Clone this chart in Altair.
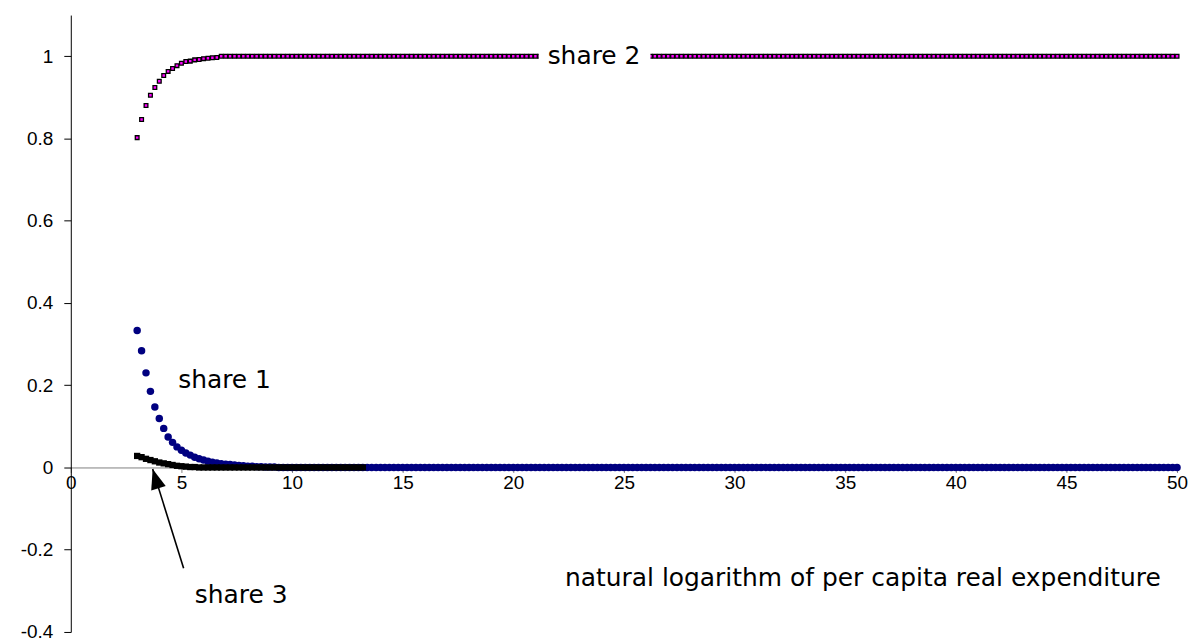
import altair as alt
import pandas as pd

# ---------------- data ----------------
X_GRID = [
    3.0, 3.2, 3.4, 3.6, 3.8, 4.0, 4.2, 4.4, 4.6, 4.8,
    5.0, 5.2, 5.4, 5.6, 5.8, 6.0, 6.2, 6.4, 6.6, 6.8,
    7.0, 7.2, 7.4, 7.6, 7.8, 8.0, 8.2, 8.4, 8.6, 8.8,
    9.0, 9.2, 9.4, 9.6, 9.8, 10.0, 10.2, 10.4, 10.6, 10.8,
    11.0, 11.2, 11.4, 11.6, 11.8, 12.0, 12.2, 12.4, 12.6, 12.8,
    13.0, 13.2, 13.4, 13.6, 13.8, 14.0, 14.2, 14.4, 14.6, 14.8,
    15.0, 15.2, 15.4, 15.6, 15.8, 16.0, 16.2, 16.4, 16.6, 16.8,
    17.0, 17.2, 17.4, 17.6, 17.8, 18.0, 18.2, 18.4, 18.6, 18.8,
    19.0, 19.2, 19.4, 19.6, 19.8, 20.0, 20.2, 20.4, 20.6, 20.8,
    21.0, 21.2, 21.4, 21.6, 21.8, 22.0, 22.2, 22.4, 22.6, 22.8,
    23.0, 23.2, 23.4, 23.6, 23.8, 24.0, 24.2, 24.4, 24.6, 24.8,
    25.0, 25.2, 25.4, 25.6, 25.8, 26.0, 26.2, 26.4, 26.6, 26.8,
    27.0, 27.2, 27.4, 27.6, 27.8, 28.0, 28.2, 28.4, 28.6, 28.8,
    29.0, 29.2, 29.4, 29.6, 29.8, 30.0, 30.2, 30.4, 30.6, 30.8,
    31.0, 31.2, 31.4, 31.6, 31.8, 32.0, 32.2, 32.4, 32.6, 32.8,
    33.0, 33.2, 33.4, 33.6, 33.8, 34.0, 34.2, 34.4, 34.6, 34.8,
    35.0, 35.2, 35.4, 35.6, 35.8, 36.0, 36.2, 36.4, 36.6, 36.8,
    37.0, 37.2, 37.4, 37.6, 37.8, 38.0, 38.2, 38.4, 38.6, 38.8,
    39.0, 39.2, 39.4, 39.6, 39.8, 40.0, 40.2, 40.4, 40.6, 40.8,
    41.0, 41.2, 41.4, 41.6, 41.8, 42.0, 42.2, 42.4, 42.6, 42.8,
    43.0, 43.2, 43.4, 43.6, 43.8, 44.0, 44.2, 44.4, 44.6, 44.8,
    45.0, 45.2, 45.4, 45.6, 45.8, 46.0, 46.2, 46.4, 46.6, 46.8,
    47.0, 47.2, 47.4, 47.6, 47.8, 48.0, 48.2, 48.4, 48.6, 48.8,
    49.0, 49.2, 49.4, 49.6, 49.8, 50.0,
]

SHARE_1 = [
    0.333, 0.284, 0.230, 0.185, 0.147, 0.119, 0.095, 0.074, 0.061, 0.050,
    0.042, 0.035, 0.030, 0.025, 0.021, 0.018, 0.015, 0.013, 0.011, 0.009,
    0.008, 0.007, 0.006, 0.005, 0.004, 0.003, 0.003, 0.002, 0.002, 0.001,
    0.001, 0.001, 0, 0, 0, 0, 0, 0, 0, 0,
    0, 0, 0, 0, 0, 0, 0, 0, 0, 0,
    0, 0, 0, 0, 0, 0, 0, 0, 0, 0,
    0, 0, 0, 0, 0, 0, 0, 0, 0, 0,
    0, 0, 0, 0, 0, 0, 0, 0, 0, 0,
    0, 0, 0, 0, 0, 0, 0, 0, 0, 0,
    0, 0, 0, 0, 0, 0, 0, 0, 0, 0,
    0, 0, 0, 0, 0, 0, 0, 0, 0, 0,
    0, 0, 0, 0, 0, 0, 0, 0, 0, 0,
    0, 0, 0, 0, 0, 0, 0, 0, 0, 0,
    0, 0, 0, 0, 0, 0, 0, 0, 0, 0,
    0, 0, 0, 0, 0, 0, 0, 0, 0, 0,
    0, 0, 0, 0, 0, 0, 0, 0, 0, 0,
    0, 0, 0, 0, 0, 0, 0, 0, 0, 0,
    0, 0, 0, 0, 0, 0, 0, 0, 0, 0,
    0, 0, 0, 0, 0, 0, 0, 0, 0, 0,
    0, 0, 0, 0, 0, 0, 0, 0, 0, 0,
    0, 0, 0, 0, 0, 0, 0, 0, 0, 0,
    0, 0, 0, 0, 0, 0, 0, 0, 0, 0,
    0, 0, 0, 0, 0, 0, 0, 0, 0, 0,
    0, 0, 0, 0, 0, 0,
]

SHARE_2 = [
    0.802, 0.846, 0.880, 0.905, 0.924, 0.939, 0.953, 0.963, 0.970, 0.977,
    0.983, 0.987, 0.988, 0.991, 0.992, 0.994, 0.995, 0.996, 0.997, 1,
    1, 1, 1, 1, 1, 1, 1, 1, 1, 1,
    1, 1, 1, 1, 1, 1, 1, 1, 1, 1,
    1, 1, 1, 1, 1, 1, 1, 1, 1, 1,
    1, 1, 1, 1, 1, 1, 1, 1, 1, 1,
    1, 1, 1, 1, 1, 1, 1, 1, 1, 1,
    1, 1, 1, 1, 1, 1, 1, 1, 1, 1,
    1, 1, 1, 1, 1, 1, 1, 1, 1, 1,
    1, 1, 1, 1, 1, 1, 1, 1, 1, 1,
    1, 1, 1, 1, 1, 1, 1, 1, 1, 1,
    1, 1, 1, 1, 1, 1, 1, 1, 1, 1,
    1, 1, 1, 1, 1, 1, 1, 1, 1, 1,
    1, 1, 1, 1, 1, 1, 1, 1, 1, 1,
    1, 1, 1, 1, 1, 1, 1, 1, 1, 1,
    1, 1, 1, 1, 1, 1, 1, 1, 1, 1,
    1, 1, 1, 1, 1, 1, 1, 1, 1, 1,
    1, 1, 1, 1, 1, 1, 1, 1, 1, 1,
    1, 1, 1, 1, 1, 1, 1, 1, 1, 1,
    1, 1, 1, 1, 1, 1, 1, 1, 1, 1,
    1, 1, 1, 1, 1, 1, 1, 1, 1, 1,
    1, 1, 1, 1, 1, 1, 1, 1, 1, 1,
    1, 1, 1, 1, 1, 1, 1, 1, 1, 1,
    1, 1, 1, 1, 1, 1,
]

SHARE_3 = [
    0.028, 0.025, 0.021, 0.018, 0.015, 0.012, 0.010, 0.008, 0.006, 0.004,
    0.003, 0.002, 0.001, 0.001, 0, 0, 0, 0, 0, 0,
    0, 0, 0, 0, 0, 0, 0, 0, 0, 0,
    0, 0, 0, 0, 0, 0, 0, 0, 0, 0,
    0, 0, 0, 0, 0, 0, 0, 0, 0, 0,
    0, 0,
]

X_TICKS = [0, 5, 10, 15, 20, 25, 30, 35, 40, 45, 50]
Y_TICKS = [-0.4, -0.2, 0, 0.2, 0.4, 0.6, 0.8, 1.0]
X_DOMAIN = [0, 50]
Y_DOMAIN = [-0.4, 1.1]

LABEL_TEXT = ["share 2", "share 1", "share 3",
              "natural logarithm of per capita real expenditure"]
LABEL_X = [23.65, 6.95, 7.7, 35.8]
LABEL_Y = [1.0, 0.213, -0.31, -0.269]

# white box behind the "share 2" label
BOX_X = [21.15]
BOX_X2 = [26.2]
BOX_Y = [0.972]
BOX_Y2 = [1.028]

# arrow pointing at share 3
ARROW_X = [5.1]
ARROW_Y = [-0.245]
ARROW_X2 = [3.7]
ARROW_Y2 = [-0.004]

# ---------------- chart ----------------
W, H = 1110, 619
FONT = "DejaVu Sans"
TICK_FONT = "Liberation Sans"

x_offset = -H * (0 - Y_DOMAIN[0]) / (Y_DOMAIN[1] - Y_DOMAIN[0])

xs = alt.Scale(domain=X_DOMAIN, nice=False, zero=False)
ys = alt.Scale(domain=Y_DOMAIN, nice=False, zero=False)

x_axis = alt.Axis(values=X_TICKS, orient="bottom", offset=x_offset,
                  domainColor="#808080", tickColor="#808080", tickSize=5,
                  labelFont=TICK_FONT, labelFontSize=19, labelColor="black",
                  labelPadding=1, labelFlush=False, labelOverlap=False,
                  grid=False, title=None)
y_axis = alt.Axis(values=Y_TICKS, orient="left",
                  domainColor="black", tickColor="black", tickSize=7,
                  labelFont=TICK_FONT, labelFontSize=19, labelColor="black",
                  labelPadding=11, labelFlush=False, labelOverlap=False,
                  labelBound=False,
                  grid=False, title=None,
                  labelExpr="datum.value < 0 ? '-' + format(-datum.value, '~g') : format(datum.value, '~g')")


def X(field):
    return alt.X(field, type="quantitative", scale=xs, axis=x_axis)


def Y(field):
    return alt.Y(field, type="quantitative", scale=ys, axis=y_axis)


df1 = pd.DataFrame({"x": X_GRID, "y": SHARE_1})
df2 = pd.DataFrame({"x": X_GRID, "y": SHARE_2})
df3 = pd.DataFrame({"x": X_GRID[:len(SHARE_3)], "y": SHARE_3})
lab = pd.DataFrame({"x": LABEL_X, "y": LABEL_Y, "t": LABEL_TEXT})
box = pd.DataFrame({"x": BOX_X, "x2": BOX_X2, "y": BOX_Y, "y2": BOX_Y2})
arr = pd.DataFrame({"x": ARROW_X, "y": ARROW_Y, "x2": ARROW_X2, "y2": ARROW_Y2})

s1 = alt.Chart(df1).mark_circle(size=56, color="#000080", opacity=1).encode(
    x=X("x"), y=Y("y"))
s3 = alt.Chart(df3).mark_square(size=40, color="black", opacity=1).encode(
    x=X("x"), y=Y("y"))
s2 = alt.Chart(df2).mark_point(shape="square", size=14, filled=True,
                               fill="#FF00FF", stroke="black", strokeWidth=1.3,
                               opacity=1).encode(x=X("x"), y=Y("y"))

bx = alt.Chart(box).mark_rect(color="white", opacity=1).encode(
    x=X("x"), x2="x2", y=Y("y"), y2="y2")

txt = alt.Chart(lab).mark_text(font=FONT, fontSize=25, color="black",
                               align="center", baseline="middle").encode(
    x=X("x"), y=Y("y"), text="t:N")

arrow_line = alt.Chart(arr).mark_rule(color="black", strokeWidth=1.6).encode(
    x=X("x"), y=Y("y"), x2="x2", y2="y2")
arrow_head = alt.Chart(arr).mark_point(
    shape="M0,0 L0.38,1 L-0.38,1 Z", size=1600, filled=True,
    color="black", opacity=1, angle=343).encode(x=X("x2"), y=Y("y2"))

chart = alt.layer(s1, s3, s2, bx, txt, arrow_line, arrow_head).properties(
    width=W, height=H,
    autosize=alt.AutoSizeParams(type="none"),
    padding={"left": 63, "top": 6, "right": 12, "bottom": 12},
    background="white",
).configure_view(stroke=None)

chart.save("out.html", embed_options={"renderer": "svg", "actions": False})
